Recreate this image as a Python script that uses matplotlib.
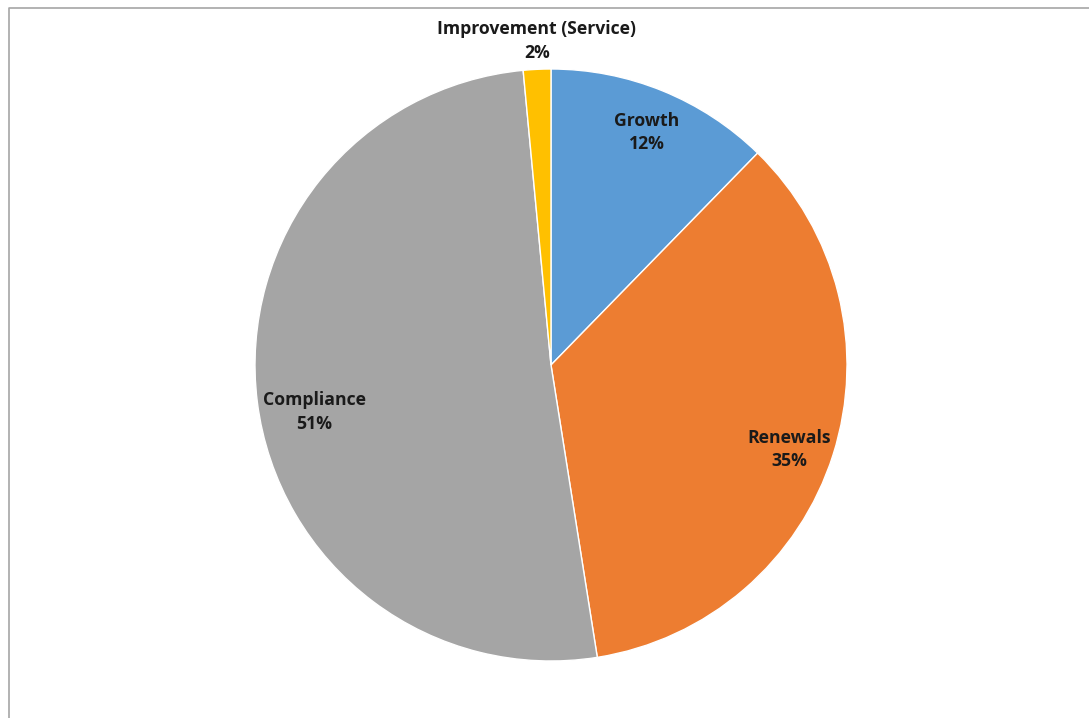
import matplotlib.pyplot as plt
import numpy as np
from matplotlib.lines import Line2D

categories = ["Growth", "Renewals", "Compliance", "Improvement (Service)"]
shares = [12.3, 35.2, 51.0, 1.5]
colors = ["#5B9BD5", "#ED7D31", "#A5A5A5", "#FFC000"]
# data label placement: radius as fraction of pie radius, plus a small angular nudge (deg)
label_r = [0.85, 0.853, 0.816, 1.097]
label_nudge = [-0.3, -1.9, 4.0, -0.2]

W, H = 1089, 718
fig = plt.figure(figsize=(W / 100, H / 100), dpi=100)

cx, cy, r = 551, 365, 296
ax = fig.add_axes([(cx - r) / W, (H - cy - r) / H, 2 * r / W, 2 * r / H])
wedges, _ = ax.pie(shares, colors=colors, startangle=90, counterclock=False, radius=1,
                   wedgeprops=dict(edgecolor="white", linewidth=1))
ax.set_xlim(-1, 1)
ax.set_ylim(-1, 1)
ax.set_aspect("equal")
ax.axis("off")

total = sum(shares)
for w, name, val, lr, nd in zip(wedges, categories, shares, label_r, label_nudge):
    mid = np.deg2rad((w.theta1 + w.theta2) / 2 + nd)
    x, y = lr * np.cos(mid), lr * np.sin(mid)
    ax.text(x, y, f"{name}\n{round(val / total * 100):.0f}%", ha="center", va="center",
            fontsize=12.7, fontweight="bold", family="Open Sans", color="#1a1a1a",
            linespacing=1.42, clip_on=False)

# chart area border (only top and left edges fall inside the image)
fig.add_artist(Line2D([8.5 / W, 8.5 / W, 1.0], [0.0, 1 - 8 / H, 1 - 8 / H],
                      transform=fig.transFigure, color="#a6a6a6", linewidth=1.2))

fig.savefig("out.png", dpi=100)
